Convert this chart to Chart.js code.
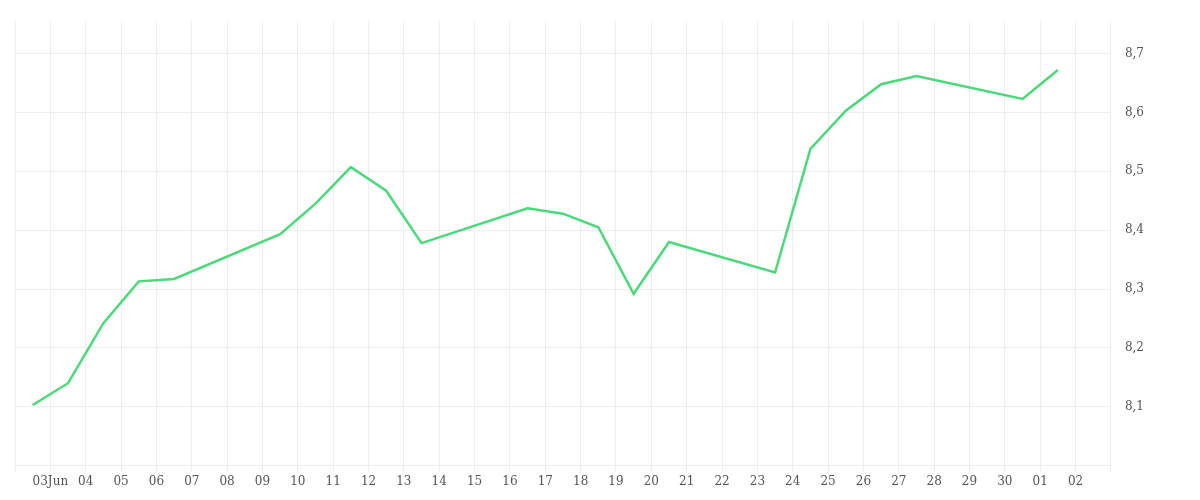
<!DOCTYPE html>
<html>
<head>
<meta charset="utf-8">
<script src="https://cdn.jsdelivr.net/npm/chart.js@4"></script>
<style>
  body { margin: 0; background: #fff; }
  #wrap { width: 1200px; height: 500px; }
</style>
</head>
<body>
<div id="wrap"><canvas id="chart"></canvas></div>
<script>
// day positions (0 = 02 Jun, points sit mid-day), weekends skipped
const days = [0.5, 1.5, 2.5, 3.5, 4.5, 7.5, 8.5, 9.5, 10.5, 11.5, 14.5, 15.5, 16.5, 17.5, 18.5,
  21.5, 22.5, 23.5, 24.5, 25.5, 28.5, 29.5];
const values = [8.103, 8.14, 8.242, 8.313, 8.317, 8.393, 8.445, 8.507, 8.467, 8.378, 8.437, 8.428,
  8.405, 8.292, 8.38, 8.328, 8.538, 8.603, 8.648, 8.662, 8.623, 8.672];
const dayLabels = ["", "03Jun", "04", "05", "06", "07", "08", "09", "10", "11", "12", "13", "14", "15",
  "16", "17", "18", "19", "20", "21", "22", "23", "24", "25", "26", "27", "28", "29", "30", "01", "02", ""];
const yTicks = [8.0, 8.1, 8.2, 8.3, 8.4, 8.5, 8.6, 8.7];

const font = { family: "'DejaVu Serif', serif", size: 12 };

new Chart(document.getElementById("chart"), {
  type: "line",
  data: {
    datasets: [{
      data: days.map((d, i) => ({ x: d, y: values[i] })),
      borderColor: "#4cd97b",
      borderWidth: 2.5,
      pointRadius: 0,
      tension: 0
    }]
  },
  options: {
    responsive: true,
    maintainAspectRatio: false,
    animation: false,
    layout: { padding: { left: 15, top: 4, right: 42, bottom: 8 } },
    plugins: { legend: { display: false }, tooltip: { enabled: false } },
    scales: {
      x: {
        type: "linear",
        min: 0,
        max: 31,
        afterBuildTicks: axis => { axis.ticks = dayLabels.map((_, i) => ({ value: i })); },
        grid: { color: "#eeeeee", tickLength: 6 },
        border: { display: false },
        ticks: {
          autoSkip: false, maxRotation: 0, color: "#555", font,
          callback: v => dayLabels[v]
        }
      },
      y: {
        position: "right",
        min: 8.0,
        max: 8.755,
        afterBuildTicks: axis => { axis.ticks = yTicks.map(v => ({ value: v })); },
        grid: { color: "#eeeeee", tickLength: 0 },
        border: { display: false },
        ticks: {
          color: "#555", font, padding: 14,
          callback: v => v < 8.05 ? "" : v.toFixed(1).replace(".", ",")
        }
      }
    }
  }
});
</script>
</body>
</html>
